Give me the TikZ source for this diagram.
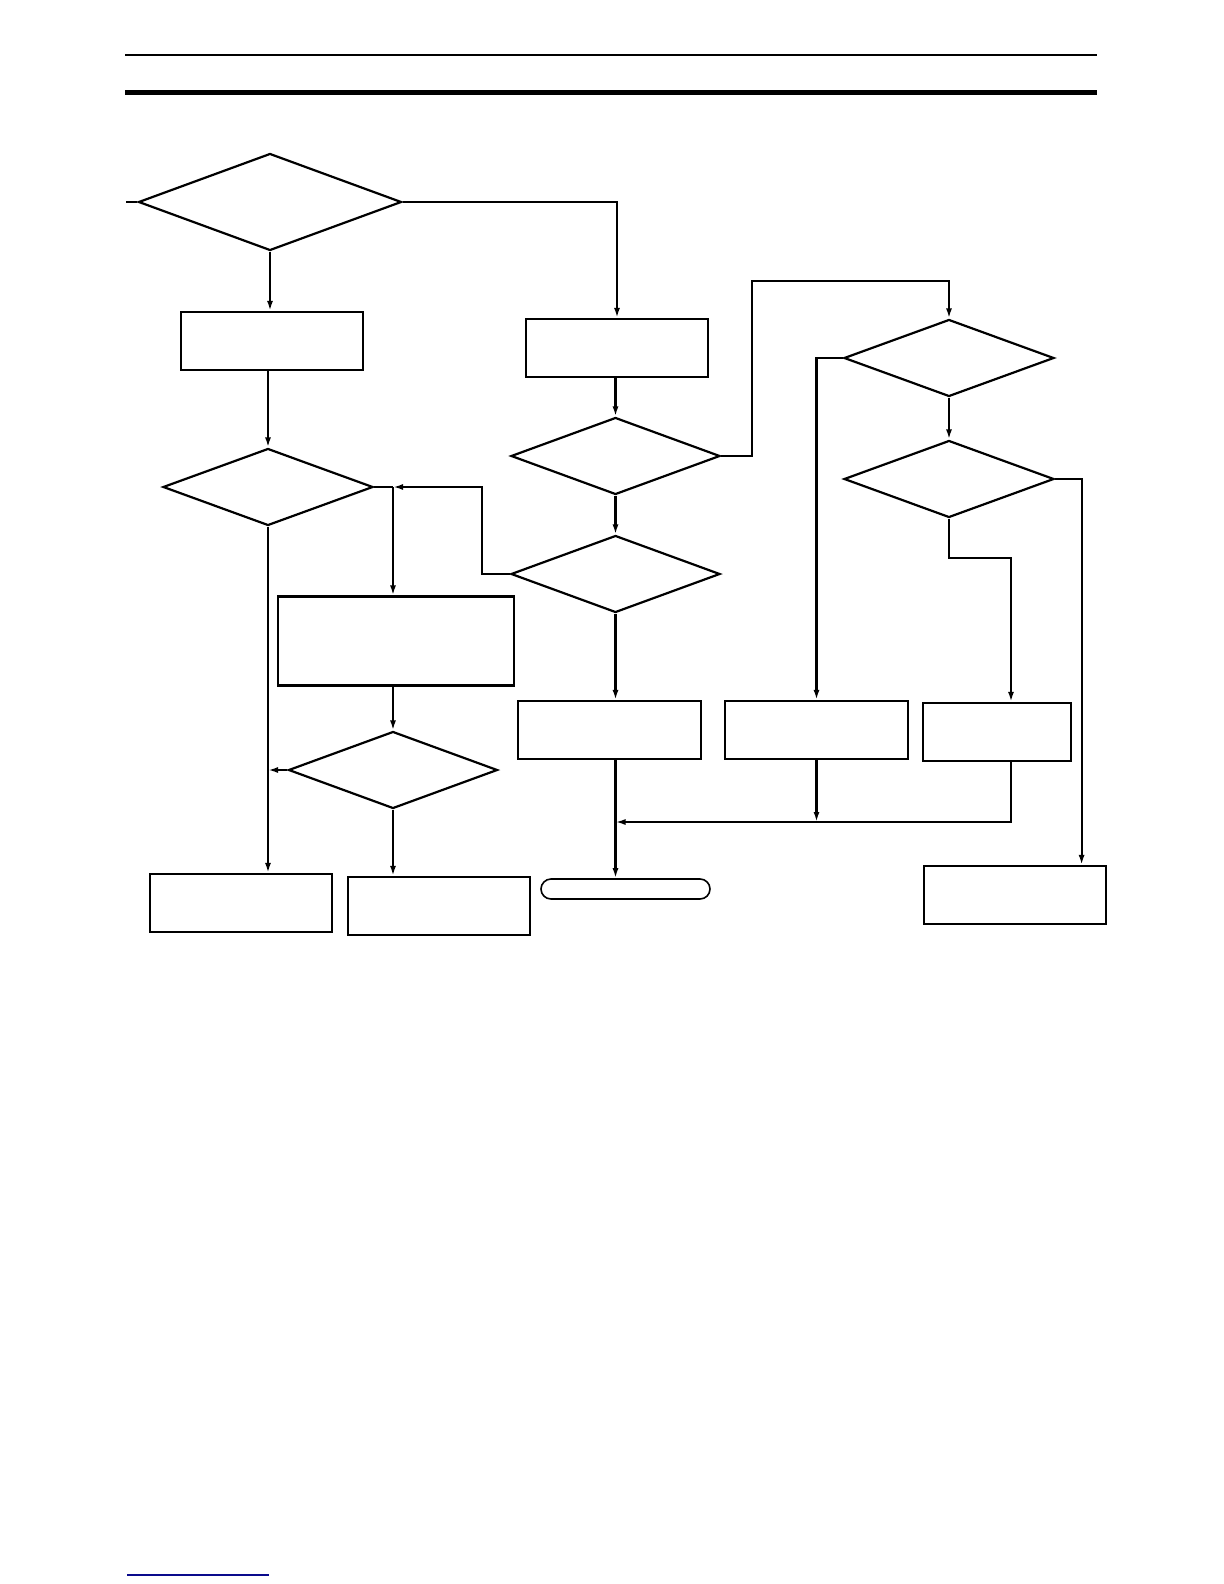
\documentclass[tikz,border=0pt]{standalone}
\usetikzlibrary{shapes.geometric,arrows.meta}
\definecolor{linkblue}{RGB}{10,10,140}
\begin{document}
\begin{tikzpicture}[x=0.5pt,y=-0.5pt,>={Latex[length=5pt,width=3pt]},line width=1.1pt,
	procbox/.style={draw,rectangle,inner sep=0pt,minimum height=29pt},
	decbox/.style={draw,diamond,inner sep=0pt,minimum width=105pt,minimum height=38.5pt},
	termbox/.style={draw,rectangle,rounded corners=5pt,inner sep=0pt,minimum width=84.5pt,minimum height=10pt}]
\useasboundingbox (0,0) rectangle (1224,1584);
\draw[line width=0.75pt] (125,55) -- (1097,55);
\fill (125,90) rectangle (1097,95.5);
\draw[linkblue,line width=0.6pt] (127,1575) -- (269,1575);
\node[decbox,minimum width=131.5pt,minimum height=48.5pt] (q1) at (270,202) {};
\node[procbox,minimum width=91pt] (b1) at (272,341) {};
\node[decbox] (q2) at (268,487) {};
\node[procbox,minimum width=118pt,minimum height=44.5pt] (b2) at (396,641) {};
\node[decbox,minimum width=104.5pt] (q3) at (393,770) {};
\node[procbox,minimum width=91pt] (b3) at (241,903) {};
\node[procbox,minimum width=91pt] (b4) at (439,906) {};
\node[procbox,minimum width=91pt] (b5) at (617,348) {};
\node[decbox,minimum width=104.5pt] (q4) at (615.5,456) {};
\node[decbox,minimum width=104.5pt] (q5) at (615.5,574) {};
\node[procbox,minimum width=91.5pt] (b6) at (609.5,730) {};
\node[termbox,line width=0.8pt] (t1) at (625.5,889) {};
\node[decbox] (q6) at (949,358) {};
\node[decbox] (q7) at (949,479) {};
\node[procbox,minimum width=91.5pt] (b7) at (816.5,730) {};
\node[procbox,minimum width=74pt] (b8) at (997,732) {};
\node[procbox,minimum width=91pt] (b9) at (1015,895) {};
\coordinate (s1) at (126,202);
\coordinate (c1) at (752,281);
\coordinate (c2) at (949,558);
\coordinate (c3) at (482,487);
\coordinate (jn) at (393,487);
\coordinate (mj) at (615.5,822);
\draw (s1) -- (q1.west);
\draw[->] (q1.south) -- (q1.south |- b1.north);
\draw[->] (q2.north |- b1.south) -- (q2.north);
\draw[->] (q1.east) -| (b5.north);
\draw (q2.east) -- (jn);
\draw[->] (jn) -- (jn |- b2.north);
\draw[->] (b2.south -| q3.north) -- (q3.north);
\draw[->] (q3.west) -- (q3.west -| q2.south);
\draw[->] (q2.south) -- (q2.south |- b3.north);
\draw[->] (q3.south) -- (q3.south |- b4.north);
\draw[->] (b5.south -| q4.north) -- (q4.north);
\draw[->] (q4.south) -- (q5.north);
\draw[->] (q5.west) -| (c3) -- (jn);
\draw[->] (q5.south) -- (q5.south |- b6.north);
\draw (q5.south |- b6.south) -- (mj);
\draw[->] (mj) -- (mj |- t1.north);
\draw[->] (q4.east) -| (c1) -| (q6.north);
\draw[->] (q6.west) -| (b7.north);
\draw[->] (q6.south) -- (q7.north);
\draw[->] (q7.south) -- (c2) -| ([xshift=7pt]b8.north);
\draw[->] (q7.east) -| ([xshift=33.3pt]b9.north);
\draw[->] (b7.south) -- (b7.south |- mj);
\draw[->] ([xshift=7pt]b8.south) |- (mj);
\end{tikzpicture}
\end{document}
